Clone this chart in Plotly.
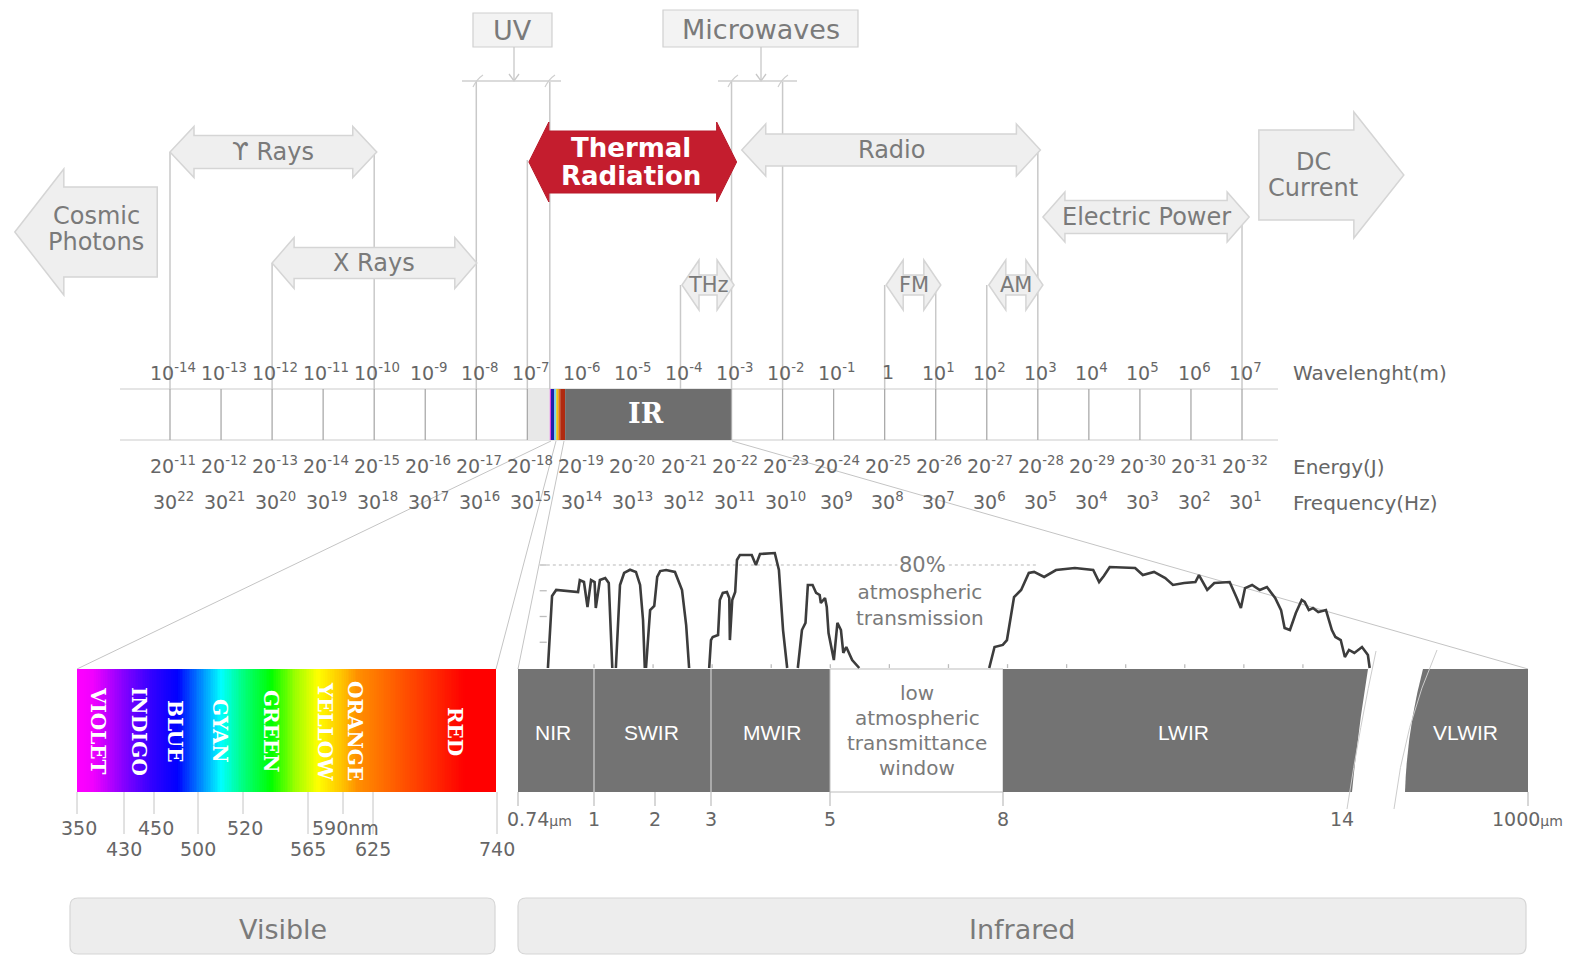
import plotly.graph_objects as go

# ======================= DATA =======================
wavelength_exp = list(range(-14, 8))            # wavelength 10^n (m)
energy_exp = list(range(-11, -33, -1))          # printed energy labels 20^n (J)
frequency_exp = list(range(22, 0, -1))          # printed frequency labels 30^n (Hz)

arrow_names = ["ϒ Rays", "X Rays", "Radio", "Electric Power", "THz", "FM", "AM"]
arrow_start_exp = [-14.0, -12.0, -2.8, 3.1, -3.97, 0.03, 2.04]
arrow_end_exp = [-9.95, -7.99, 3.05, 7.14, -2.95, 1.1, 3.1]

thermal_lines = ["Thermal", "Radiation"]
thermal_span_exp = [-6.97, -2.9]
cosmic_lines = ["Cosmic", "Photons"]
cosmic_span_exp = [-17.04, -14.25]
dc_lines = ["DC", "Current"]
dc_span_exp = [7.33, 10.17]

region_labels = ["UV", "Microwaves"]
guide_exp = [-14, -12, -10, -8, -7, -6.56, -4, -3, -2, 0, 1, 2, 3, 7]
uv_span_exp = [-7.0, -6.56]
visible_span_exp = [-6.56, -6.26]
ir_span_exp = [-6.26, -3.0]
visible_stripe_colors = ["#e040e0", "#1c22a8", "#70d8f0", "#e8c414", "#e07010", "#b02a10"]
visible_stripe_frac = [0.0, 0.08, 0.3, 0.42, 0.56, 0.68, 1.0]

visible_names = ["VIOLET", "INDIGO", "BLUE", "GYAN", "GREEN", "YELLOW", "ORANGE", "RED"]
visible_nm = [350, 430, 450, 500, 520, 565, 590, 625, 740]
visible_nm_row = [1, 2, 1, 2, 1, 2, 1, 2, 2]

ir_names = ["NIR", "SWIR", "MWIR", "LWIR", "VLWIR"]
ir_window_lines = ["low", "atmospheric", "transmittance", "window"]
ir_tick_labels = ["0.74", "1", "2", "3", "5", "8", "14", "1000"]

# atmospheric transmission (um, %)
trans_um = [
    [0.22, 0.26, 0.29, 0.36, 0.73, 0.76, 0.83, 0.89, 0.95, 1.01, 1.03, 1.10, 1.19, 1.25, 1.31],
    [1.37, 1.41, 1.44, 1.51, 1.61, 1.71, 1.78, 1.83, 1.86],
    [1.88, 1.95, 2.02, 2.07, 2.12, 2.22, 2.37, 2.49, 2.56, 2.61],
    [2.95, 2.98, 3.01, 3.10, 3.13, 3.18, 3.25, 3.29, 3.30, 3.34, 3.39, 3.42, 3.47, 3.67, 3.74,
     3.81, 4.06, 4.13, 4.20, 4.27],
    [4.45, 4.52, 4.58, 4.62, 4.70, 4.76, 4.82, 4.84, 4.91, 4.94, 4.97, 5.03, 5.06, 5.12, 5.18,
     5.22, 5.27, 5.37, 5.49],
    [7.69, 7.78, 7.92, 7.99, 8.11, 8.23, 8.36, 8.45, 8.62, 8.75, 8.82, 9.14, 9.45, 9.55, 9.63,
     9.73, 9.97, 10.16, 10.29, 10.48, 10.67, 10.80, 10.99, 11.18, 11.24, 11.38, 11.50, 11.76,
     11.88, 11.95, 12.02, 12.14, 12.27, 12.39, 12.53, 12.63, 12.69, 12.78, 12.88, 12.98, 13.03,
     13.10, 13.17, 13.26, 13.39, 13.49, 13.55, 13.64, 13.71, 13.78, 13.87, 14.00, 14.10, 14.13],
]
trans_pct = [
    [0, 37.3, 55.9, 60.6, 59.0, 68.3, 66.8, 47.4, 68.3, 66.8, 46.6, 68.3, 69.9, 66.0, 0],
    [0, 37.3, 64.5, 73.8, 76.3, 74.6, 64.5, 37.3, 0],
    [0, 45.0, 48.2, 70.7, 75.3, 76.1, 74.6, 60.6, 33.4, 0],
    [0, 21.7, 24.1, 25.6, 52.8, 58.3, 59.0, 54.4, 21.7, 52.8, 59.0, 83.9, 87.8, 87.8, 80.0,
     88.5, 89.3, 76.1, 29.5, 0],
    [0, 29.5, 35.0, 64.5, 64.5, 58.3, 56.7, 50.5, 54.4, 47.4, 27.2, 11.7, 6.2, 35.0, 29.5,
     11.7, 16.3, 6.2, 0],
    [0, 16.3, 17.9, 21.7, 55.1, 60.6, 73.8, 74.6, 70.7, 73.8, 76.1, 77.7, 76.1, 66.8, 71.5,
     78.4, 77.7, 77.7, 72.2, 74.6, 69.9, 64.5, 66.0, 66.8, 72.2, 60.6, 66.0, 66.8, 54.4, 46.6,
     62.1, 64.5, 60.6, 62.9, 54.4, 45.0, 31.1, 29.5, 42.7, 52.8, 51.3, 45.0, 46.6, 43.5, 45.0,
     29.5, 24.1, 21.7, 8.5, 14.0, 11.7, 16.3, 10.1, 0],
]
trans_axis_um = list(range(1, 14))
trans_axis_pct = [20, 40, 60, 80]
trans_grid_pct = 80
panel_titles = ["Visible", "Infrared"]

# ======================= LAYOUT CONSTANTS =======================
W, H = 1573, 956
PX_DEC, X_E0 = 51.048, 170.0          # wavelength scale: px per decade, px of 10^-14
PX_UM, X_UM1 = 768 / 13, 594.0        # IR panel: px per um, px of 1 um
PX_PCT, Y_T0 = 1.2875, 668.0          # transmission: px per %, px of 0 %
BAND_TOP, BAND_BOT = 389, 440
PANEL_TOP, PANEL_BOT = 669, 792
VIS_X0, VIS_X1 = 77, 496
VIS_TICK_PX = [77, 124, 154, 198, 243, 308, 343, 373, 497]
VIS_LABEL_PX = [98, 139, 175, 220, 271, 325, 355, 455]
IR_X0, IR_X1 = 518, 1528
IR_DIV = [594, 711, 830, 1003]
IR_NAME_PX = [553, 651, 772, 1183, 1465]
IR_TICK_PX = [539, 594, 655, 711, 830, 1003, 1342, 1527]
IR_TICK_LINE_PX = [518, 594, 655, 711, 830, 1003, 1528]
guide_top_y = [152, 263, 152, 82, 160, 82, 285, 82, 82, 285, 285, 285, 150, 217]
arrow_y = [152, 263, 150, 217, 285, 285, 285]
arrow_bh = [16.5, 15.5, 16, 16.5, 10, 10, 10]
arrow_hh = [25.5, 25.5, 26, 25, 25, 25, 25]
arrow_hl = [24, 22, 24, 22, 17, 17, 17]
arrow_fs = [24, 24, 24, 24, 21, 21, 21]
WL_Y, EN_Y, FQ_Y = 372, 465, 501

GRAY_TXT = "#7a7a7a"
SCALE_TXT = "#666666"
ARROW_FILL, ARROW_LINE = "#efefef", "#d5d5d5"
FONT = "DejaVu Sans"

shapes = []
annotations = []


def add_rect(x0, y0, x1, y1, fill, line=None, lw=0, xref="x", layer="below"):
    shapes.append(dict(type="rect", xref=xref, yref="y", x0=x0, y0=y0, x1=x1, y1=y1,
                       fillcolor=fill, line=dict(color=line or fill, width=lw), layer=layer))


def add_line(x0, y0, x1, y1, color, w=1.0, xref="x", layer="below"):
    shapes.append(dict(type="line", xref=xref, yref="y", x0=x0, y0=y0, x1=x1, y1=y1,
                       line=dict(color=color, width=w), layer=layer))


def add_path(d, fill=None, line="#000", lw=1.0, xref="x", layer="below"):
    s = dict(type="path", xref=xref, yref="y", path=d, line=dict(color=line, width=lw), layer=layer)
    if fill:
        s["fillcolor"] = fill
    shapes.append(s)


def add_text(x, y, text, size, color=GRAY_TXT, xref="x", family=FONT, xanchor="center",
             angle=0, bg=None):
    a = dict(x=x, y=y, xref=xref, yref="y", text=text, showarrow=False, xanchor=xanchor,
             yanchor="middle", textangle=angle, font=dict(size=size, color=color, family=family))
    if bg:
        a["bgcolor"] = bg
    annotations.append(a)


def arrow_path(x0, x1, yc, bh, hh, hl, left=True, right=True):
    pts = []
    if left:
        pts += [(x0, yc), (x0 + hl, yc - hh), (x0 + hl, yc - bh)]
    else:
        pts += [(x0, yc - bh)]
    if right:
        pts += [(x1 - hl, yc - bh), (x1 - hl, yc - hh), (x1, yc), (x1 - hl, yc + hh), (x1 - hl, yc + bh)]
    else:
        pts += [(x1, yc - bh), (x1, yc + bh)]
    if left:
        pts += [(x0 + hl, yc + bh), (x0 + hl, yc + hh)]
    else:
        pts += [(x0, yc + bh)]
    return "M " + " L ".join(f"{x:.4f},{y:.2f}" for x, y in pts) + " Z"


def rounded(x0, y0, x1, y1, r):
    return (f"M {x0+r},{y0} L {x1-r},{y0} Q {x1},{y0} {x1},{y0+r} L {x1},{y1-r} "
            f"Q {x1},{y1} {x1-r},{y1} L {x0+r},{y1} Q {x0},{y1} {x0},{y1-r} "
            f"L {x0},{y0+r} Q {x0},{y0} {x0+r},{y0} Z")


# ---------- top: UV / Microwaves label boxes and brackets ----------
add_rect(473, 13, 552, 47, "#f3f3f3", "#d0d0d0", 1.2)
add_text(512, 30, region_labels[0], 27)
add_line(514, 47, 514, 81, "#c8c8c8", 1.3)
add_path("M 509,74 L 514,81 L 519,74", None, "#c8c8c8", 1.3)
add_line(462, 81, 561, 81, "#cfcfcf", 1.3)
for xx in (478, 550):
    add_path(f"M {xx-5},87 Q {xx-1},79 {xx+5},75", None, "#cfcfcf", 1.2)

add_rect(663, 10, 858, 47, "#f3f3f3", "#d0d0d0", 1.2)
add_text(761, 29, region_labels[1], 27)
add_line(761, 47, 761, 81, "#c8c8c8", 1.3)
add_path("M 756,74 L 761,81 L 766,74", None, "#c8c8c8", 1.3)
add_line(718, 81, 797, 81, "#cfcfcf", 1.3)
for xx in (733, 783):
    add_path(f"M {xx-5},87 Q {xx-1},79 {xx+5},75", None, "#cfcfcf", 1.2)

# ---------- wavelength band ----------
add_line(120, BAND_TOP, 1278, BAND_TOP, "#cccccc", 1.2)
add_line(120, BAND_BOT, 1278, BAND_BOT, "#cccccc", 1.2)
add_rect(uv_span_exp[0], BAND_TOP, uv_span_exp[1], BAND_BOT, "#e8e8e8", xref="x3")
vs0, vs1 = visible_span_exp
for i, c in enumerate(visible_stripe_colors):
    add_rect(vs0 + (vs1 - vs0) * visible_stripe_frac[i], BAND_TOP,
             vs0 + (vs1 - vs0) * visible_stripe_frac[i + 1], BAND_BOT, c, xref="x3")
add_rect(ir_span_exp[0], BAND_TOP, ir_span_exp[1], BAND_BOT, "#6e6e6e", xref="x3")
add_text((ir_span_exp[0] + ir_span_exp[1]) / 2 - 0.04, 413, "<b>IR</b>", 27, "white", xref="x3",
         family="DejaVu Serif")

# ---------- zoom connector lines ----------
add_line(551, BAND_BOT + 1, VIS_X0, PANEL_TOP, "#c4c4c4", 1)
add_line(556, BAND_BOT + 1, VIS_X1, PANEL_TOP, "#c4c4c4", 1)
add_line(564, BAND_BOT + 1, IR_X0, PANEL_TOP, "#c4c4c4", 1)
add_line(732, BAND_BOT + 1, IR_X1, PANEL_TOP, "#c4c4c4", 1)

# ---------- IR panel bar ----------
add_rect(IR_X0, PANEL_TOP, IR_DIV[2], PANEL_BOT, "#737373")
add_rect(IR_DIV[2], PANEL_TOP, IR_DIV[3], PANEL_BOT, "white", "#bdbdbd", 1)
add_path(f"M {IR_DIV[3]},{PANEL_TOP} L 1368,{PANEL_TOP} Q 1358,730 1352,{PANEL_BOT} "
         f"L {IR_DIV[3]},{PANEL_BOT} Z", "#737373", "#737373", 0)
add_path(f"M 1423,{PANEL_TOP} L {IR_X1},{PANEL_TOP} L {IR_X1},{PANEL_BOT} L 1405,{PANEL_BOT} "
         f"Q 1407,730 1423,{PANEL_TOP} Z", "#737373", "#737373", 0)
add_path("M 1376,651 Q 1360,725 1347,809", None, "#cccccc", 1)
add_path("M 1437,650 Q 1404,725 1394,809", None, "#cccccc", 1)
for xx in IR_DIV[:2]:
    add_line(xx, PANEL_TOP, xx, PANEL_BOT, "#c8c8c8", 1.3)
for xx in IR_TICK_LINE_PX:
    add_line(xx, PANEL_BOT, xx, 806, "#bdbdbd", 1.2)

# ---------- visible ticks ----------
for xx, row in zip(VIS_TICK_PX, visible_nm_row):
    add_line(xx, PANEL_BOT, xx, 814 if row == 1 else 834, "#c4c4c4", 1)

# ---------- bottom titles ----------
add_path(rounded(70, 898, 495, 954, 8), "#ededed", "#d6d6d6", 1.2)
add_path(rounded(518, 898, 1526, 954, 8), "#ededed", "#d6d6d6", 1.2)
add_text((70 + 495) / 2, 929, panel_titles[0], 27)
add_text((518 + 1526) / 2, 929, panel_titles[1], 27)

# ---------- arrows (above traces) ----------
for i, name in enumerate(arrow_names):
    add_path(arrow_path(arrow_start_exp[i], arrow_end_exp[i], arrow_y[i], arrow_bh[i], arrow_hh[i],
                        arrow_hl[i] / PX_DEC), ARROW_FILL, ARROW_LINE, 1.5, xref="x3", layer="above")
    add_text((arrow_start_exp[i] + arrow_end_exp[i]) / 2, arrow_y[i], name, arrow_fs[i], xref="x3")

add_path(arrow_path(thermal_span_exp[0], thermal_span_exp[1], 162, 31, 40, 20 / PX_DEC),
         "#c41d2e", "#b81a2a", 1, xref="x3", layer="above")
add_text(631, 148, "<b>%s</b>" % thermal_lines[0], 26, "white")
add_text(631, 176, "<b>%s</b>" % thermal_lines[1], 26, "white")

add_path(arrow_path(cosmic_span_exp[0], cosmic_span_exp[1], 232, 45, 63, 49 / PX_DEC, True, False),
         ARROW_FILL, ARROW_LINE, 1.5, xref="x3", layer="above")
add_text(96, 216, cosmic_lines[0], 24)
add_text(96, 242, cosmic_lines[1], 24)
add_path(arrow_path(dc_span_exp[0], dc_span_exp[1], 175, 45, 63, 50 / PX_DEC, False, True),
         ARROW_FILL, ARROW_LINE, 1.5, xref="x3", layer="above")
add_text(1313, 162, dc_lines[0], 24)
add_text(1313, 188, dc_lines[1], 24)

# ---------- scale labels ----------
for e in wavelength_exp:
    add_text(e + 0.06, WL_Y, "1" if e == 0 else "10<sup>%d</sup>" % e, 19, SCALE_TXT, xref="x3")
for e, v in zip(wavelength_exp, energy_exp):
    add_text(e + 0.06, EN_Y, "20<sup>%d</sup>" % v, 19, SCALE_TXT, xref="x3")
for e, v in zip(wavelength_exp, frequency_exp):
    add_text(e + 0.06, FQ_Y, "30<sup>%d</sup>" % v, 19, SCALE_TXT, xref="x3")
add_text(1291, WL_Y + 1, "Wavelenght(m)", 20, SCALE_TXT, xanchor="left")
add_text(1291, EN_Y + 2, "Energy(J)", 20, SCALE_TXT, xanchor="left")
add_text(1291, FQ_Y + 2, "Frequency(Hz)", 20, SCALE_TXT, xanchor="left")

# ---------- visible panel labels ----------
for xx, name in zip(VIS_LABEL_PX, visible_names):
    add_text(xx, 731, "<b>%s</b>" % name, 20, "white", family="DejaVu Serif", angle=90)
for xx, nm, row in zip(VIS_TICK_PX, visible_nm, visible_nm_row):
    txt = "%dnm" % nm if nm == 590 else str(nm)
    add_text(xx + (2 if row == 1 else 0), 828 if row == 1 else 849, txt, 19, SCALE_TXT)

# ---------- IR panel labels ----------
for xx, name in zip(IR_NAME_PX, ir_names):
    add_text(xx, 732, name, 21, "white", family="Liberation Sans")
for k, ln in enumerate(ir_window_lines):
    add_text(917, 693 + k * 25, ln, 20, GRAY_TXT)
for xx, lab in zip(IR_TICK_PX, ir_tick_labels):
    if lab in ("0.74", "1000"):
        lab = lab + "<span style='font-size:14px'>µm</span>"
    add_text(xx, 819, lab, 19, SCALE_TXT)

# ---------- transmission annotations ----------
add_text(922, 565, "80%", 21, GRAY_TXT, bg="white")
add_text(920, 605, "atmospheric<br>transmission", 20, GRAY_TXT)

# ======================= FIGURE =======================
fig = go.Figure()

# visible spectrum gradient
spectrum_scale = [[0.0, "#ff00ff"], [0.04, "#f000ff"], [0.115, "#8000ff"], [0.18, "#3000ff"],
                  [0.24, "#0000ff"], [0.344, "#00ffff"], [0.396, "#00ff80"], [0.463, "#00ff00"],
                  [0.523, "#a0ff00"], [0.575, "#ffff00"], [0.635, "#ffc000"], [0.668, "#ff9000"],
                  [0.754, "#ff6000"], [0.84, "#ff3000"], [0.924, "#ff0000"], [1.0, "#ff0000"]]
NCOL = 240
x_edges = [VIS_X0 + (VIS_X1 - VIS_X0) * i / NCOL for i in range(NCOL + 1)]
fig.add_trace(go.Heatmap(x=x_edges, y=[PANEL_TOP, PANEL_BOT], z=[[(i + 0.5) / NCOL for i in range(NCOL)]],
                         colorscale=spectrum_scale, zmin=0, zmax=1, showscale=False, hoverinfo="skip",
                         xaxis="x", yaxis="y"))

# guide lines and band ticks on the wavelength scale
gx, gy = [], []
for e, top in zip(guide_exp, guide_top_y):
    gx += [e, e, None]
    gy += [top, BAND_TOP, None]
fig.add_trace(go.Scatter(x=gx, y=gy, mode="lines", line=dict(color="#c9c9c9", width=1.5),
                         xaxis="x3", yaxis="y", hoverinfo="skip"))
tx, ty = [], []
for e in wavelength_exp:
    if ir_span_exp[0] < e < ir_span_exp[1]:
        continue
    tx += [e, e, None]
    ty += [BAND_TOP, BAND_BOT, None]
fig.add_trace(go.Scatter(x=tx, y=ty, mode="lines", line=dict(color="#aaaaaa", width=1.3),
                         xaxis="x3", yaxis="y", hoverinfo="skip"))

# transmission chart axis marks
ax_x, ax_y = [], []
for u in trans_axis_um:
    ax_x += [u, u, None]
    ax_y += [0, 3, None]
for p in trans_axis_pct:
    ax_x += [0.08, 0.2, None]
    ax_y += [p, p, None]
fig.add_trace(go.Scatter(x=ax_x, y=ax_y, mode="lines", line=dict(color="#bdbdbd", width=1.3),
                         xaxis="x2", yaxis="y2", hoverinfo="skip"))
fig.add_trace(go.Scatter(x=[0.1, 8.5], y=[trans_grid_pct, trans_grid_pct], mode="lines",
                         line=dict(color="#d0d0d0", width=1.5, dash="dot"),
                         xaxis="x2", yaxis="y2", hoverinfo="skip"))

# transmission curve
cx, cy = [], []
for us, ps in zip(trans_um, trans_pct):
    cx += us + [None]
    cy += ps + [None]
fig.add_trace(go.Scatter(x=cx, y=cy, mode="lines", line=dict(color="#3c3c3c", width=2.6),
                         xaxis="x2", yaxis="y2", hoverinfo="skip", connectgaps=False))

x3_range = [-14 - X_E0 / PX_DEC, -14 + (W - X_E0) / PX_DEC]
x2_range = [1 - X_UM1 / PX_UM, 1 + (W - X_UM1) / PX_UM]
y2_range = [(Y_T0 - H) / PX_PCT, Y_T0 / PX_PCT]

fig.update_layout(
    width=W, height=H, margin=dict(l=0, r=0, t=0, b=0),
    paper_bgcolor="white", plot_bgcolor="white", showlegend=False,
    xaxis=dict(range=[0, W], visible=False, fixedrange=True),
    yaxis=dict(range=[H, 0], visible=False, fixedrange=True),
    xaxis2=dict(range=x2_range, overlaying="x", anchor="y2", visible=False, fixedrange=True),
    yaxis2=dict(range=y2_range, overlaying="y", anchor="x2", visible=False, fixedrange=True),
    xaxis3=dict(range=x3_range, overlaying="x", anchor="y", visible=False, fixedrange=True),
    shapes=shapes, annotations=annotations,
)

fig.write_html("out.html", config={"displayModeBar": False},
               post_script="document.body.style.margin='0';document.body.style.overflow='hidden';")
